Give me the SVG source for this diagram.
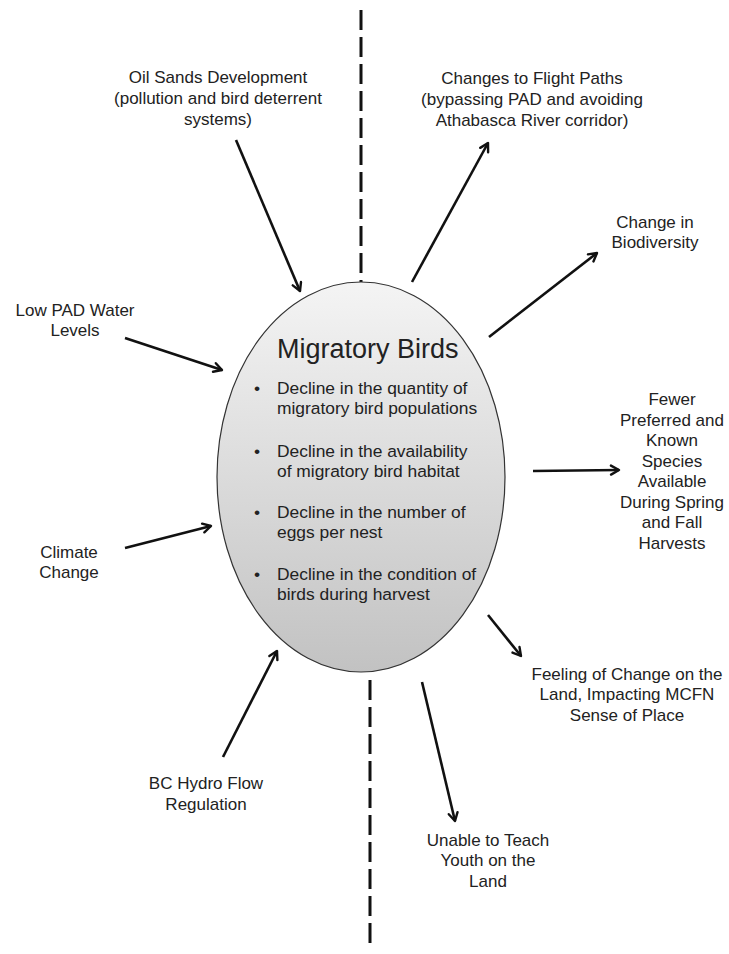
<svg xmlns="http://www.w3.org/2000/svg" width="729" height="954" viewBox="0 0 729 954">
<style>
text{font-family:"Liberation Sans",Arial,sans-serif;font-size:17px;fill:#222;}
.lbl{text-anchor:middle;}
.body{font-size:17.4px;}
.title{font-size:27px;}
.arr{stroke:#111;stroke-width:2.6;fill:none;marker-end:url(#ah);}
.dash{stroke:#111;stroke-width:3;stroke-dasharray:20 7;fill:none;}
</style>
<defs>
<linearGradient id="g" x1="0" y1="0" x2="0" y2="1">
<stop offset="0" stop-color="#f4f4f4"/>
<stop offset="1" stop-color="#c2c2c2"/>
</linearGradient>
<marker id="ah" viewBox="0 0 12 12" refX="10" refY="6" markerWidth="12" markerHeight="12" markerUnits="userSpaceOnUse" orient="auto">
<path d="M2,1.5 L10,6 L2,10.5" fill="none" stroke="#111" stroke-width="2.4" stroke-linecap="round" stroke-linejoin="round"/>
</marker>
</defs>
<rect width="729" height="954" fill="#fff"/>
<g id="connectors">
<line class="dash" x1="361" y1="10" x2="361" y2="283"/>
<line class="dash" x1="370" y1="680" x2="370" y2="948"/>
<line class="arr" x1="236" y1="140" x2="300" y2="291"/>
<line class="arr" x1="412" y1="282" x2="488" y2="143"/>
<line class="arr" x1="489" y1="337" x2="597" y2="253"/>
<line class="arr" x1="125" y1="338" x2="222" y2="370"/>
<line class="arr" x1="125" y1="548" x2="211" y2="526"/>
<line class="arr" x1="533" y1="471" x2="619" y2="470"/>
<line class="arr" x1="488" y1="615" x2="521" y2="656"/>
<line class="arr" x1="422" y1="682" x2="455" y2="821"/>
<line class="arr" x1="223" y1="757" x2="277" y2="651"/>
</g>
<g id="migratory-birds">
<ellipse cx="361" cy="477" rx="144" ry="195" fill="url(#g)" stroke="#333" stroke-width="1.2"/>
<text class="title" x="277" y="358">Migratory Birds</text>
<g class="body">
<text class="body" x="254" y="394">•</text><text class="body" x="277" y="394">Decline in the quantity of</text>
<text class="body" x="277" y="414">migratory bird populations</text>
<text class="body" x="254" y="457">•</text><text class="body" x="277" y="457">Decline in the availability</text>
<text class="body" x="277" y="477">of migratory bird habitat</text>
<text class="body" x="254" y="518">•</text><text class="body" x="277" y="518">Decline in the number of</text>
<text class="body" x="277" y="538">eggs per nest</text>
<text class="body" x="254" y="580">•</text><text class="body" x="277" y="580">Decline in the condition of</text>
<text class="body" x="277" y="600">birds during harvest</text>
</g>
</g>
<g id="oil-sands">
<text class="lbl" x="218" y="83">Oil Sands Development</text>
<text class="lbl" x="218" y="104">(pollution and bird deterrent</text>
<text class="lbl" x="218" y="125">systems)</text>
</g>
<g id="flight-paths">
<text class="lbl" x="532" y="84">Changes to Flight Paths</text>
<text class="lbl" x="532" y="105">(bypassing PAD and avoiding</text>
<text class="lbl" x="532" y="126">Athabasca River corridor)</text>
</g>
<g id="biodiversity">
<text class="lbl" x="655" y="228">Change in</text>
<text class="lbl" x="655" y="248">Biodiversity</text>
</g>
<g id="low-pad">
<text class="lbl" x="75" y="316">Low PAD Water</text>
<text class="lbl" x="75" y="336">Levels</text>
</g>
<g id="climate">
<text class="lbl" x="69" y="558">Climate</text>
<text class="lbl" x="69" y="578">Change</text>
</g>
<g id="fewer-species">
<text class="lbl" x="672" y="405">Fewer</text>
<text class="lbl" x="672" y="426">Preferred and</text>
<text class="lbl" x="672" y="446">Known</text>
<text class="lbl" x="672" y="467">Species</text>
<text class="lbl" x="672" y="487">Available</text>
<text class="lbl" x="672" y="508">During Spring</text>
<text class="lbl" x="672" y="528">and Fall</text>
<text class="lbl" x="672" y="549">Harvests</text>
</g>
<g id="feeling">
<text class="lbl" x="627" y="680">Feeling of Change on the</text>
<text class="lbl" x="627" y="700">Land, Impacting MCFN</text>
<text class="lbl" x="627" y="721">Sense of Place</text>
</g>
<g id="unable">
<text class="lbl" x="488" y="846">Unable to Teach</text>
<text class="lbl" x="488" y="866">Youth on the</text>
<text class="lbl" x="488" y="887">Land</text>
</g>
<g id="bc-hydro">
<text class="lbl" x="206" y="789">BC Hydro Flow</text>
<text class="lbl" x="206" y="810">Regulation</text>
</g>
</svg>
